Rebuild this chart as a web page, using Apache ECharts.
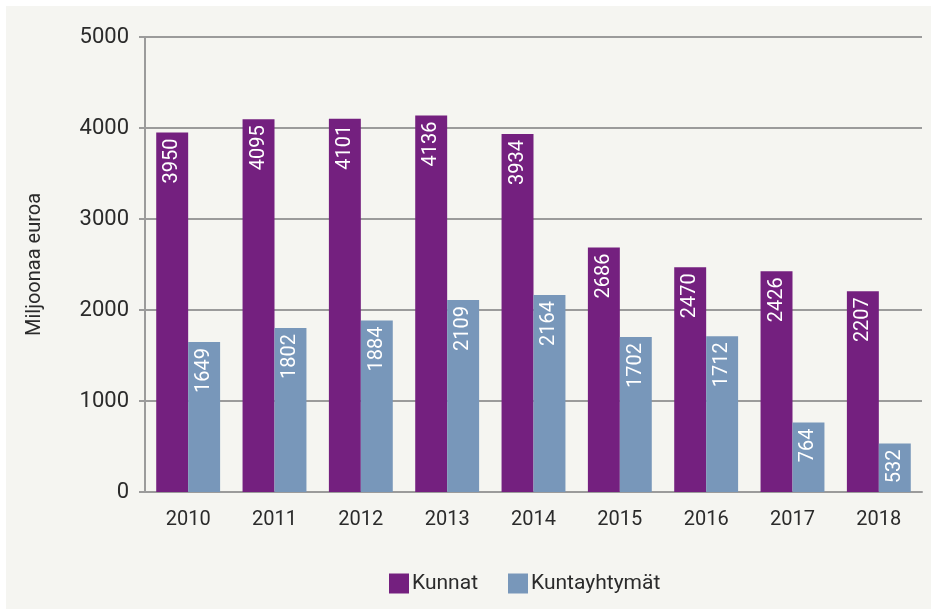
<!DOCTYPE html>
<html>
<head>
<meta charset="utf-8">
<script src="https://cdn.jsdelivr.net/npm/echarts@6/dist/echarts.min.js"></script>
<style>
  html, body { margin: 0; padding: 0; background: #ffffff; }
  #chart { position: absolute; left: 6px; top: 6px; width: 925px; height: 603px; background: #f5f5f1; }
</style>
</head>
<body>
<div id="chart"></div>
<script>
const years = ['2010', '2011', '2012', '2013', '2014', '2015', '2016', '2017', '2018']
const kunnat = [3950, 4095, 4101, 4136, 3934, 2686, 2470, 2426, 2207]
const kuntayhtymat = [1649, 1802, 1884, 2109, 2164, 1702, 1712, 764, 532]
const yTicks = [0, 1000, 2000, 3000, 4000, 5000]

const lineColor = '#9b9b9b'
const textColor = '#2b2b2b'

const barLabel = {
  show: true,
  position: 'insideTop',
  distance: 6,
  rotate: 90,
  align: 'right',
  verticalAlign: 'middle',
  color: '#ffffff',
  fontFamily: 'Roboto',
  fontSize: 20,
}

const myChart = echarts.init(document.getElementById('chart'))
myChart.setOption({
  animation: false,
  textStyle: { fontFamily: 'Roboto' },
  grid: { left: 139, right: 9, top: 31, bottom: 117 },
  legend: {
    left: 378,
    top: 562,
    itemWidth: 20,
    itemHeight: 20,
    itemGap: 30,
    icon: 'rect',
    textStyle: { color: textColor, fontSize: 21, padding: [0, 0, 0, -2] },
    data: ['Kunnat', 'Kuntayhtymät'],
  },
  xAxis: {
    type: 'category',
    data: years,
    axisLine: { lineStyle: { color: lineColor, width: 2 } },
    axisTick: { length: 11, lineStyle: { color: lineColor, width: 2 } },
    axisLabel: { color: textColor, fontSize: 20, margin: 18 },
  },
  yAxis: {
    type: 'value',
    min: yTicks[0],
    max: yTicks[yTicks.length - 1],
    interval: 1000,
    name: 'Miljoonaa euroa',
    nameLocation: 'middle',
    nameGap: 100,
    nameTextStyle: { color: textColor, fontSize: 20 },
    axisLine: { show: true, lineStyle: { color: lineColor, width: 2 } },
    axisTick: { show: true, length: 6, lineStyle: { color: lineColor, width: 2 } },
    axisLabel: { color: textColor, fontSize: 22, margin: 16, formatter: function (v) { return String(v) } },
    splitLine: { lineStyle: { color: lineColor, width: 2 } },
  },
  series: [
    {
      name: 'Kunnat',
      type: 'bar',
      data: kunnat,
      barGap: '0%',
      barCategoryGap: '26%',
      itemStyle: { color: '#74207f' },
      label: barLabel,
    },
    {
      name: 'Kuntayhtymät',
      type: 'bar',
      data: kuntayhtymat,
      itemStyle: { color: '#7897ba' },
      label: barLabel,
    },
  ],
})
</script>
</body>
</html>
